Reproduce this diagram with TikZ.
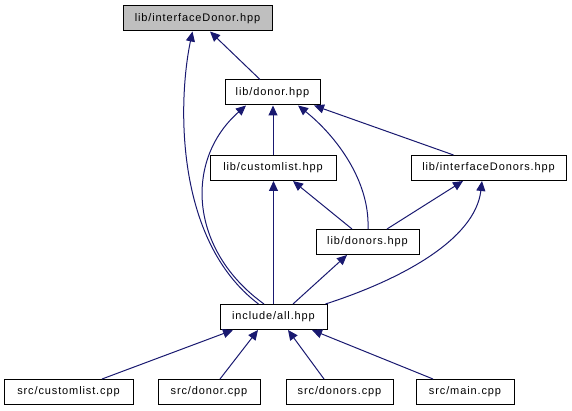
\documentclass[tikz,border=0pt]{standalone}
\usepackage{fontspec}
\setmainfont{Liberation Sans}[LetterSpace=8]
\usepackage{tikz}
\usetikzlibrary{arrows.meta}
\definecolor{edgeblue}{RGB}{25,25,112}
\definecolor{headgray}{RGB}{191,191,191}
\tikzset{
  file/.style={draw=black, fill=white, align=center, minimum height=25pt,
    inner sep=0pt, line width=1pt, font=\fontsize{11pt}{13pt}\selectfont},
  header/.style={file, fill=headgray},
  dep/.style={draw=edgeblue, line width=1pt,
    -{Triangle[length=10pt, width=9pt, fill=edgeblue]}}
}

\begin{document}
\begin{tikzpicture}[x=1pt, y=-1pt]
    \useasboundingbox (0,0) rectangle (572,411);
    \node[header, minimum width=149pt] (ifd) at (197.5,18.5) {lib/interfaceDonor.hpp};
    \node[file, minimum width=95pt] (donor) at (272.5,92.5) {lib/donor.hpp};
    \node[file, minimum width=126pt] (clist) at (273,168) {lib/customlist.hpp};
    \node[file, minimum width=155pt] (ifds) at (488.5,168) {lib/interfaceDonors.hpp};
    \node[file, minimum width=103pt] (donors) at (367.5,242) {lib/donors.hpp};
    \node[file, minimum width=107pt] (all) at (273.5,317) {include/all.hpp};
    \node[file, minimum width=129pt] (scl) at (68.5,392) {src/customlist.cpp};
    \node[file, minimum width=102pt] (sdonor) at (209,392) {src/donor.cpp};
    \node[file, minimum width=107pt] (sdonors) at (339.5,392) {src/donors.cpp};
    \node[file, minimum width=98pt] (smain) at (465,392) {src/main.cpp};
    \draw[dep] ([xshift=-12.5pt]donor.north) -- ([xshift=12.5pt]ifd.south);
    \draw[dep] ([xshift=-15pt]all.north) .. controls (174,240) and (178,100) .. ([xshift=-5pt]ifd.south);
    \draw[dep] ([xshift=-9.5pt]all.north) .. controls (189,250) and (184,160) .. ([xshift=-26.5pt]donor.south);
    \draw[dep] (clist.north) -- (clist.north |- donor.south);
    \draw[dep] ([xshift=0.5pt]donors.north) .. controls (370,180) and (335,135) .. ([xshift=25.5pt]donor.south);
    \draw[dep] ([xshift=-35pt]ifds.north) -- ([xshift=41.5pt]donor.south);
    \draw[dep] ([xshift=-15.5pt]donors.north) -- ([xshift=20pt]clist.south);
    \draw[dep] ([xshift=19.5pt]donors.north) -- ([xshift=-25.5pt]ifds.south);
    \draw[dep] ([xshift=-2pt]all.north east) .. controls (400,280) and (475,240) .. ([xshift=-6.5pt]ifds.south);
    \draw[dep] (all.north) -- (all.north |- clist.south);
    \draw[dep] ([xshift=19.5pt]all.north) -- ([xshift=-20.5pt]donors.south);
    \draw[dep] ([xshift=33.5pt]scl.north) -- ([xshift=-40.5pt]all.south);
    \draw[dep] ([xshift=11pt]sdonor.north) -- ([xshift=-15.5pt]all.south);
    \draw[dep] ([xshift=-15.5pt]sdonors.north) -- ([xshift=14.5pt]all.south);
    \draw[dep] ([xshift=-32pt]smain.north) -- ([xshift=38.5pt]all.south);
\end{tikzpicture}
\end{document}
